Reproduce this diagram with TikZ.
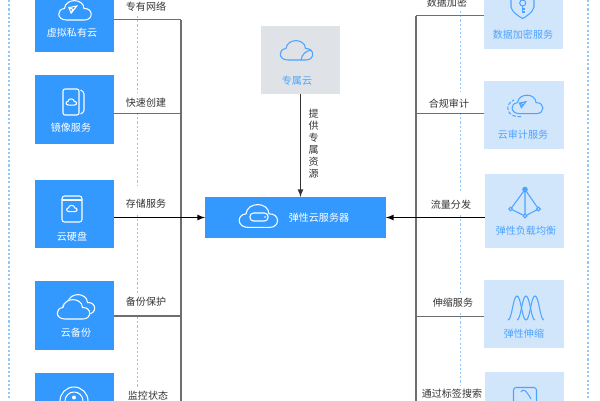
\documentclass[tikz,border=0pt]{standalone}
\usepackage{fontspec}
\setmainfont{Noto Sans CJK SC}
\definecolor{boxblue}{HTML}{3399FF}
\definecolor{boxpale}{HTML}{D2E6FB}
\definecolor{boxgrey}{HTML}{DFE3E7}
\definecolor{iconblue}{HTML}{4DA3FF}
\definecolor{dotblue}{HTML}{90C6F8}
\definecolor{linegrey}{HTML}{6E6E6E}
\tikzset{
  every node/.style={inner sep=0pt,outer sep=0pt,font=\fontsize{5.7}{6.9}\selectfont},
  bluebox/.style={fill=boxblue,minimum width=1.58cm,minimum height=1.38cm},
  palebox/.style={fill=boxpale,minimum width=1.6cm,minimum height=1.37cm},
  whitetext/.style={text=white},
  bluetext/.style={text=iconblue},
  linetext/.style={text=black!80},
  linkline/.style={linegrey,line width=0.65pt},
  dotline/.style={dotblue,line width=1pt,dash pattern=on 1.2pt off 1.2pt},
  whiteicon/.style={draw=white,line width=0.6pt},
  blueicon/.style={draw=iconblue,line width=0.6pt},
  cloudicon/.pic={
    \draw [pic actions] (-9,-8) .. controls (-19,-8) and (-19,3) .. (-11,3.5)
      .. controls (-10,14) and (8,14) .. (8.5,3.5)
      .. controls (18,4) and (18,-8) .. (9,-8) -- cycle;
  },
  planeicon/.pic={
    \draw [pic actions] (-4,3) -- (6,5) -- (-1,-4) -- cycle (-4,3) -- (1,1) -- (-1,-4);
  }
}
\begin{document}
\begin{tikzpicture}[x=0.02cm,y=0.02cm]
\useasboundingbox (0,0) rectangle (600,-400);
\clip (0,0) rectangle (600,-400);
% dotted frames
\foreach \x in {9,588}
  \draw [dotline] (\x,0) -- (\x,-400);
\foreach \a/\b in {16/93,113/185,215/293,317/387}
  \draw [dotline] (137.5,-\a) -- (137.5,-\b);
\foreach \a/\b in {11/92,113/193,215/293,313/385}
  \draw [dotline] (460.5,-\a) -- (460.5,-\b);
% boxes on the left
\node [bluebox] (vpc) at (74.5,-17.5) {};
\node [bluebox] (mirror) at (74.5,-109.5) {};
\node [bluebox] (disk) at (74.5,-214) {};
\node [bluebox] (backup) at (74.5,-315.5) {};
\node [bluebox] (monitor) at (74.5,-407.5) {};
% boxes on the right
\node [palebox] (encrypt) at (523.5,-14.5) {};
\node [palebox] (audit) at (524,-115) {};
\node [palebox,minimum height=1.5cm] (balance) at (524.5,-211) {};
\node [palebox] (scaling) at (524,-314) {};
\node [palebox] (tags) at (524.5,-406) {};
% middle boxes
\node [fill=boxgrey,minimum width=1.58cm,minimum height=1.36cm] (dedicated) at (300.5,-60) {};
\node [fill=boxblue,minimum width=3.62cm,minimum height=0.82cm] (ecs) at (295.5,-217.5) {};
% spines
\coordinate (ltop) at (181,-19.5);
\coordinate (lbot) at (181,-420);
\coordinate (rtop) at (416,-15.5);
\coordinate (rbot) at (416,-420);
\coordinate (l2) at (181,-113.5);
\coordinate (l4) at (181,-316);
\coordinate (r2) at (416,-113.5);
\coordinate (r4) at (416,-316.5);
\draw [linkline] (ltop) -- (lbot);
\draw [linkline] (rtop) -- (rbot);
\draw [linkline] (ltop) -- (ltop -| vpc.east);
\draw [linkline,line width=0.5pt] (l2) -- (l2 -| mirror.east);
\draw [linkline] (l4) -- (l4 -| backup.east);
\draw [linkline] (monitor.east) -- (monitor.east -| lbot);
\draw [linkline,line width=0.5pt] (rtop) -- (rtop -| encrypt.west);
\draw [linkline,line width=0.5pt] (r2) -- (r2 -| audit.west);
\draw [linkline] (r4) -- (r4 -| scaling.west);
\draw [linkline] (tags.west) -- (tags.west -| rbot);
\draw [black,line width=0.5pt,-latex] (ecs.west -| disk.east) -- (ecs.west);
\draw [black,line width=0.5pt,-latex] (ecs.east -| balance.west) -- (ecs.east);
\draw [black!80,line width=0.5pt,-latex] (dedicated.south) -- (dedicated.south |- ecs.north);
% texts in the boxes
\node [whitetext] (vpctext) at (72,-32.5) {虚拟私有云};
\node [whitetext] (mirrortext) at (71,-128) {镜像服务};
\node [whitetext] (disktext) at (72,-237) {云硬盘};
\node [whitetext] (backuptext) at (76,-333) {云备份};
\node [bluetext] (encrypttext) at (523,-35) {数据加密服务};
\node [bluetext] (audittext) at (523,-135) {云审计服务};
\node [bluetext] (balancetext) at (526,-231) {弹性负载均衡};
\node [bluetext] (scalingtext) at (524,-334) {弹性伸缩};
\node [bluetext] (dedicatedtext) at (297,-81) {专属云};
\node [whitetext] (ecstext) at (319,-218) {弹性云服务器};
% texts on the lines
\node [linetext] (lab1) at (146,-7) {专有网络};
\node [linetext] (lab2) at (146,-103) {快速创建};
\node [linetext] (lab3) at (146,-204) {存储服务};
\node [linetext] (lab4) at (146,-302) {备份保护};
\node [linetext] (lab5) at (148,-396) {监控状态};
\node [linetext] (lab6) at (447,-3) {数据加密};
\node [linetext] (lab7) at (449,-104) {合规审计};
\node [linetext] (lab8) at (451,-205) {流量分发};
\node [linetext] (lab9) at (453,-303) {伸缩服务};
\node [linetext] (lab10) at (452,-394) {通过标签搜索};
\node [linetext,align=center,font=\fontsize{5.7}{6.83}\selectfont] (lab11) at (313.7,-144) {提\\供\\专\\属\\资\\源};
% icons on the left
\pic [whiteicon] at (75.5,-12) {cloudicon};
\pic [whiteicon,scale=0.8] at (72,-10) {planeicon};
\draw [whiteicon,rounded corners=1.2pt] (63,-89) rectangle (79,-115);
\draw [whiteicon,rounded corners=1.2pt] (80.5,-90) -- (84,-92) -- (84,-112) -- (80.5,-114);
\pic [whiteicon,scale=0.32] at (71.5,-102.5) {cloudicon};
\draw [whiteicon,rounded corners=1.5pt] (62,-196) rectangle (82,-222);
\draw [whiteicon] (62,-200) -- (82,-200);
\pic [whiteicon,scale=0.32] at (72,-209) {cloudicon};
\pic [whiteicon] at (79,-306) {cloudicon};
\pic [draw=boxblue,fill=boxblue,line width=0.6pt] at (74,-311) {cloudicon};
\pic [whiteicon] at (74,-311) {cloudicon};
\draw [whiteicon] (74,-401) ellipse (14 and 14);
\draw [whiteicon] (74,-401) circle (9);
\fill [white] (74,-397.5) circle (2);
% icons on the right
\draw [blueicon] (511,0) -- (511,-7) .. controls (512,-12) and (518,-16) .. (522.7,-18.5)
  .. controls (527,-16) and (533,-12) .. (534,-7) -- (534,0);
\draw [blueicon] (522.7,-3) circle (3);
\draw [blueicon] (522.7,-6) -- (522.7,-12.5) (522.7,-9) -- (525.5,-9) (522.7,-12) -- (525.5,-12);
\pic [blueicon,scale=0.95] at (528,-106) {cloudicon};
\draw [blueicon,dash pattern=on 2pt off 1pt] (521,-116.5) .. controls (506,-118) and (504,-104) .. (514,-100);
\pic [blueicon,scale=0.65] at (522,-105) {planeicon};
\draw [blueicon] (525,-189.5) -- (510.7,-209) -- (525,-216) -- (538.5,-209) -- cycle (525,-189.5) -- (525,-216);
\fill [iconblue] (525,-189.5) circle (2.8);
\foreach \c/\d in {510.7/-209,525/-216,538.5/-209}
  \filldraw [blueicon,fill=boxpale] (\c,\d) circle (1.8);
\foreach \c in {517,526,535}
  \draw [blueicon] (\c-9,-320) .. controls (\c-5,-320) and (\c-4,-296) .. (\c,-296)
    .. controls (\c+4,-296) and (\c+5,-320) .. (\c+9,-320);
\draw [blueicon,rounded corners=1.5pt] (513.5,-387.5) rectangle (536.5,-412);
\draw [blueicon] (521,-392) .. controls (523,-388) and (526,-390) .. (531,-399);
\pic [blueicon] at (297,-52) {cloudicon};
\draw [blueicon] (301,-60) .. controls (302,-54) and (306,-51) .. (311,-50);
\pic [whiteicon,scale=1.18] at (259,-218) {cloudicon};
\draw [whiteicon,rounded corners=2pt] (250,-213) rectangle (268,-221);
\fill [white] (265,-217) circle (0.9);
\end{tikzpicture}
\end{document}
